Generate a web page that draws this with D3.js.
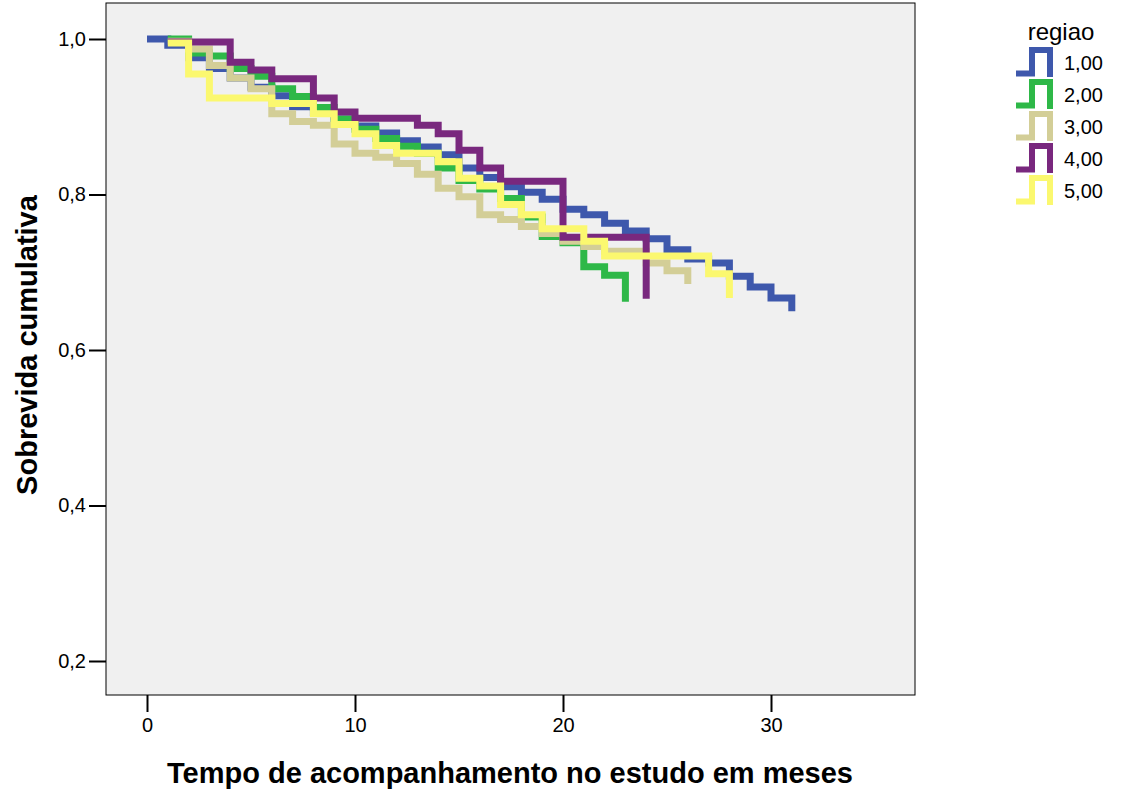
<!DOCTYPE html>
<html>
<head>
<meta charset="utf-8">
<script src="https://cdn.jsdelivr.net/npm/d3@7"></script>
<style>
  html, body { margin: 0; padding: 0; background: #ffffff; }
  svg { display: block; font-family: "Liberation Sans", Arial, sans-serif; }
</style>
</head>
<body>
<svg id="chart" width="1124" height="794"></svg>
<script>
// ---------- data ----------
const regionLabels = ["1,00", "2,00", "3,00", "4,00", "5,00"];
const legendTitle = "regiao";
const xTitle = "Tempo de acompanhamento no estudo em meses";
const yTitle = "Sobrevida cumulativa";
const xTickValues = [0, 10, 20, 30];
const yTickValues = [0.2, 0.4, 0.6, 0.8, 1.0];

const timesR1 = [0,1,2,3,4,5,6,7,8,9,10,11,12,13,14,15,16,17,18,19,20,21,22,23,24,25,26,27,28,29,30,31];
const survR1  = [1.000,0.992,0.976,0.962,0.950,0.938,0.927,0.913,0.905,0.897,0.888,0.879,0.869,0.861,0.851,0.834,0.822,0.810,0.803,0.794,0.781,0.774,0.763,0.753,0.743,0.729,0.717,0.712,0.695,0.681,0.667,0.650];

const timesR2 = [1,2,3,4,5,6,7,8,9,10,11,12,13,14,15,16,17,18,19,20,21,22,23];
const survR2  = [1.000,0.982,0.978,0.962,0.952,0.936,0.926,0.912,0.897,0.884,0.872,0.862,0.853,0.834,0.818,0.807,0.795,0.771,0.746,0.738,0.707,0.696,0.662];

const timesR3 = [1,2,3,4,5,6,7,8,9,10,11,12,13,14,15,16,17,18,19,20,21,22,23,24,25,26];
const survR3  = [0.997,0.987,0.966,0.950,0.936,0.904,0.894,0.889,0.865,0.853,0.848,0.840,0.826,0.808,0.797,0.774,0.768,0.759,0.750,0.740,0.733,0.727,0.727,0.712,0.702,0.685];

const timesR4 = [1,2,3,4,5,6,7,8,9,10,11,12,13,14,15,16,17,18,19,20,21,22,23,24];
const survR4  = [0.996,0.996,0.996,0.970,0.960,0.949,0.949,0.924,0.906,0.898,0.898,0.898,0.889,0.878,0.857,0.834,0.817,0.817,0.817,0.745,0.745,0.745,0.745,0.666];

const timesR5 = [1,2,3,4,5,6,7,8,9,10,11,12,13,14,15,16,17,18,19,20,21,22,23,24,25,26,27,28];
const survR5  = [0.995,0.955,0.924,0.924,0.924,0.917,0.917,0.904,0.890,0.878,0.863,0.853,0.853,0.842,0.821,0.811,0.787,0.774,0.756,0.756,0.740,0.721,0.721,0.721,0.721,0.721,0.698,0.667];

const seriesColors = ["#3e58ac", "#2eb848", "#d3ce97", "#79287e", "#fbf86f"];

// ---------- build ----------
const seriesTimes = [timesR1, timesR2, timesR3, timesR4, timesR5];
const seriesSurv = [survR1, survR2, survR3, survR4, survR5];
const series = regionLabels.map((name, i) => ({
  name,
  color: seriesColors[i],
  points: seriesTimes[i].map((t, j) => ({ t, s: seriesSurv[i][j] }))
}));

const svg = d3.select("#chart");

const frame = { left: 106, right: 915, top: 3, bottom: 695 };

const x = d3.scaleLinear().domain([0, 30]).range([147, 771]);
const y = d3.scaleLinear().domain([0.2, 1.0]).range([661, 39]);

// plot background + frame
svg.append("rect")
  .attr("x", frame.left).attr("y", frame.top)
  .attr("width", frame.right - frame.left)
  .attr("height", frame.bottom - frame.top)
  .attr("fill", "#f0f0f0")
  .attr("stroke", "#000").attr("stroke-width", 1);

// axes
const yAxis = d3.axisLeft(y)
  .tickValues(yTickValues)
  .tickSize(17)
  .tickPadding(3)
  .tickFormat(d => d3.format(".1f")(d).replace(".", ","));
const gy = svg.append("g")
  .attr("transform", `translate(${frame.left},0)`)
  .call(yAxis);
gy.select(".domain").remove();
gy.selectAll(".tick line").attr("stroke", "#000").attr("stroke-width", 2);
gy.selectAll(".tick text").attr("font-size", 20).attr("fill", "#000")
  .style("font-family", "'Liberation Sans', Arial, sans-serif");

const xAxis = d3.axisBottom(x)
  .tickValues(xTickValues)
  .tickSize(17)
  .tickPadding(6)
  .tickFormat(d3.format("d"));
const gx = svg.append("g")
  .attr("transform", `translate(0,${frame.bottom})`)
  .call(xAxis);
gx.select(".domain").remove();
gx.selectAll(".tick line").attr("stroke", "#000").attr("stroke-width", 2);
gx.selectAll(".tick text").attr("font-size", 20).attr("fill", "#000")
  .style("font-family", "'Liberation Sans', Arial, sans-serif");

// titles
svg.append("text")
  .attr("x", 510).attr("y", 783)
  .attr("text-anchor", "middle")
  .attr("font-size", 29).attr("font-weight", "bold")
  .text(xTitle);

svg.append("text")
  .attr("transform", "translate(37,345) rotate(-90)")
  .attr("text-anchor", "middle")
  .attr("font-size", 29).attr("font-weight", "bold")
  .text(yTitle);

// survival step lines
const line = d3.line()
  .x(d => x(d.t))
  .y(d => y(d.s))
  .curve(d3.curveStepAfter);

svg.append("g")
  .selectAll("path")
  .data(series)
  .join("path")
  .attr("d", d => line(d.points))
  .attr("fill", "none")
  .attr("stroke", d => d.color)
  .attr("stroke-width", 7)
  .attr("stroke-linejoin", "miter")
  .attr("stroke-linecap", "butt");

// legend
const lg = svg.append("g");
lg.append("text")
  .attr("x", 1061).attr("y", 40)
  .attr("text-anchor", "middle")
  .attr("font-size", 24)
  .text(legendTitle);

const items = lg.selectAll("g.item")
  .data(series)
  .join("g")
  .attr("class", "item")
  .attr("transform", (d, i) => `translate(0,${i * 32})`);

items.append("path")
  .attr("d", "M1016,73.5 H1032 V50 H1050 V77")
  .attr("fill", "none")
  .attr("stroke", d => d.color)
  .attr("stroke-width", 6)
  .attr("stroke-linejoin", "miter");

items.append("text")
  .attr("x", 1064).attr("y", 70)
  .attr("font-size", 20)
  .text(d => d.name);
</script>
</body>
</html>
